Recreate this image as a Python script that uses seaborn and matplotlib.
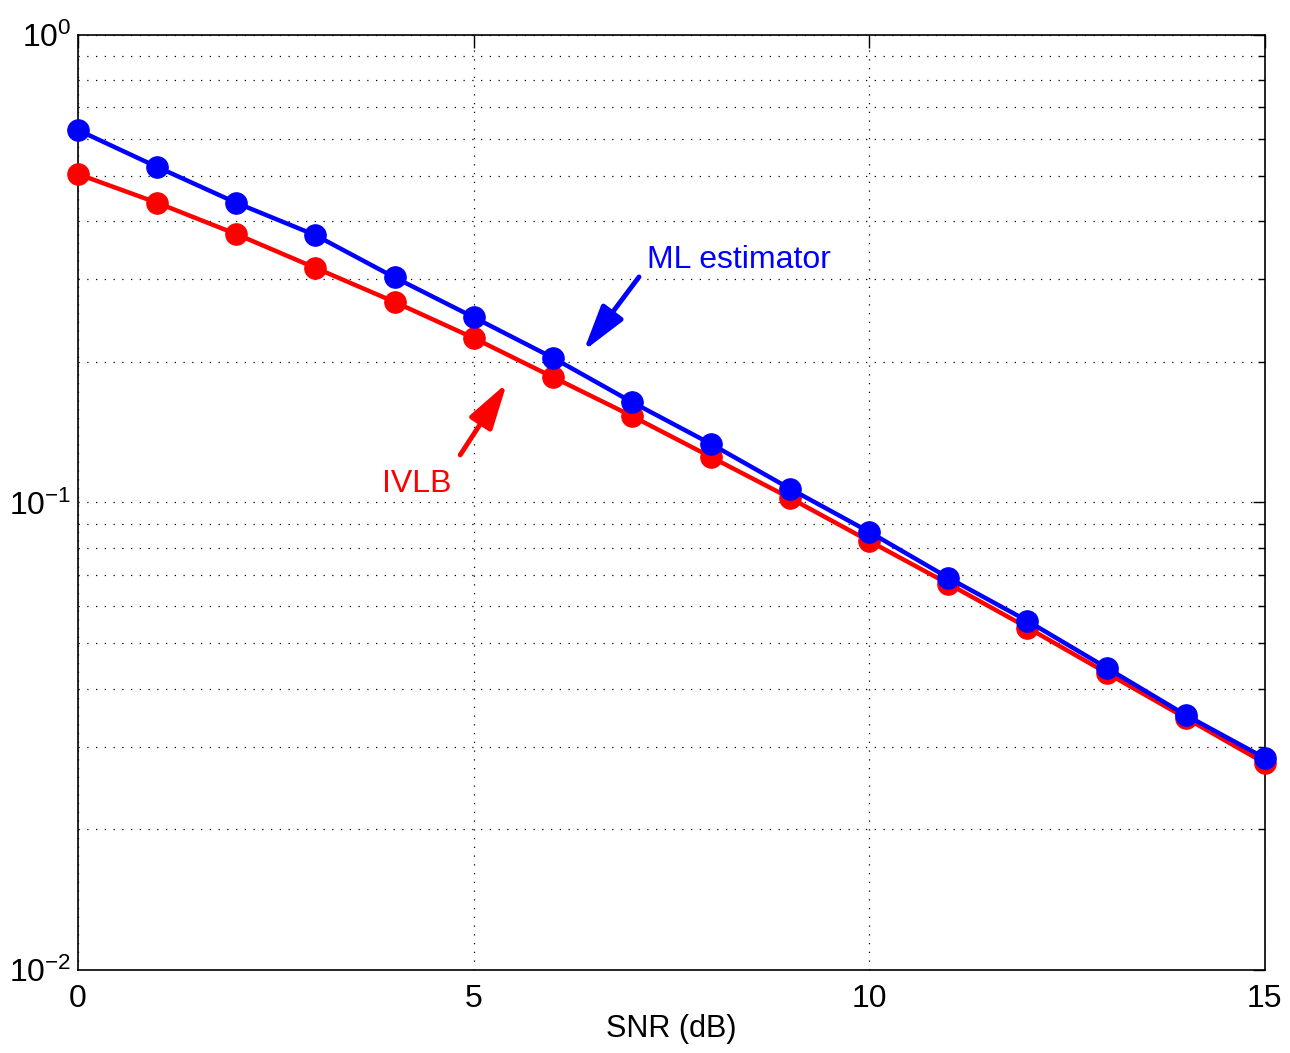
import numpy as np
import pandas as pd
import seaborn as sns
import matplotlib.pyplot as plt
from matplotlib.ticker import LogLocator, NullFormatter, FixedLocator

# values
snr_db = list(range(16))
ml_estimator = [0.626, 0.522, 0.4375, 0.373, 0.303, 0.249, 0.204, 0.164,
                0.1334, 0.107, 0.0865, 0.069, 0.0558, 0.0443, 0.0351, 0.0284]
ivlb = [0.504, 0.4375, 0.375, 0.3175, 0.2685, 0.2248, 0.1855, 0.1531,
        0.1251, 0.1022, 0.0827, 0.067, 0.054, 0.0432, 0.0346, 0.0277]
x_ticks = [0, 5, 10, 15]

sns.set_style("white")
plt.rcParams['font.family'] = ['Liberation Sans', 'DejaVu Sans']
plt.rcParams['mathtext.fontset'] = 'custom'
plt.rcParams['mathtext.rm'] = 'Liberation Sans'
plt.rcParams['mathtext.it'] = 'Liberation Sans'
plt.rcParams['axes.unicode_minus'] = False
plt.rcParams['text.color'] = 'black'
plt.rcParams['axes.labelcolor'] = 'black'

df = pd.DataFrame({"snr": snr_db, "ml": ml_estimator, "ivlb": ivlb})

fig = plt.figure(figsize=(12.9, 10.53), dpi=100)
ax = fig.add_axes([0.0605, 0.0788, 0.92, 0.888])

sns.lineplot(data=df, x="snr", y="ivlb", ax=ax, color="red", marker="o",
             markersize=15.5, markeredgecolor="red", linewidth=3.2, zorder=3,
             clip_on=False)
sns.lineplot(data=df, x="snr", y="ml", ax=ax, color="blue", marker="o",
             markersize=15.5, markeredgecolor="blue", linewidth=3.2, zorder=4,
             clip_on=False)

ax.set_yscale("log")
ax.set_xlim(0, 15)
ax.set_ylim(1e-2, 1)
ax.xaxis.set_major_locator(FixedLocator(x_ticks))
ax.yaxis.set_major_locator(LogLocator(base=10, numticks=10))
ax.yaxis.set_minor_locator(LogLocator(base=10, subs=np.arange(2, 10), numticks=20))
ax.yaxis.set_minor_formatter(NullFormatter())

ax.grid(True, which="major", color="black", linestyle=(0, (1, 6)), linewidth=0.9)
ax.grid(True, which="minor", axis="y", color="black", linestyle=(0, (1, 6)), linewidth=0.9)

ax.tick_params(which="both", direction="in", top=True, right=True,
               labelsize=23, width=1, colors="black")
ax.tick_params(which="major", length=9)
ax.tick_params(which="minor", length=5)
ax.tick_params(axis="x", pad=10)
ax.tick_params(axis="y", pad=5)
for s in ax.spines.values():
    s.set_color("black")
    s.set_linewidth(1.2)

ax.set_xlabel("SNR (dB)", fontsize=22, labelpad=0)
ax.set_ylabel("")

ax.annotate("", xy=(6.39, 0.211), xytext=(7.09, 0.3037),
            arrowprops=dict(arrowstyle="-|>,head_length=0.7,head_width=0.2",
                            color="blue", lw=3.5,
                            mutation_scale=40, shrinkA=0, shrinkB=0))
ax.annotate("", xy=(5.42, 0.180), xytext=(4.83, 0.1264),
            arrowprops=dict(arrowstyle="-|>,head_length=0.7,head_width=0.2",
                            color="red", lw=3.5,
                            mutation_scale=40, shrinkA=0, shrinkB=0))
ax.text(7.19, 0.330, "ML estimator", color="blue", fontsize=23, va="center", ha="left")
ax.text(3.84, 0.1096, "IVLB", color="red", fontsize=23, va="center", ha="left")

fig.savefig("out.png", dpi=100)
